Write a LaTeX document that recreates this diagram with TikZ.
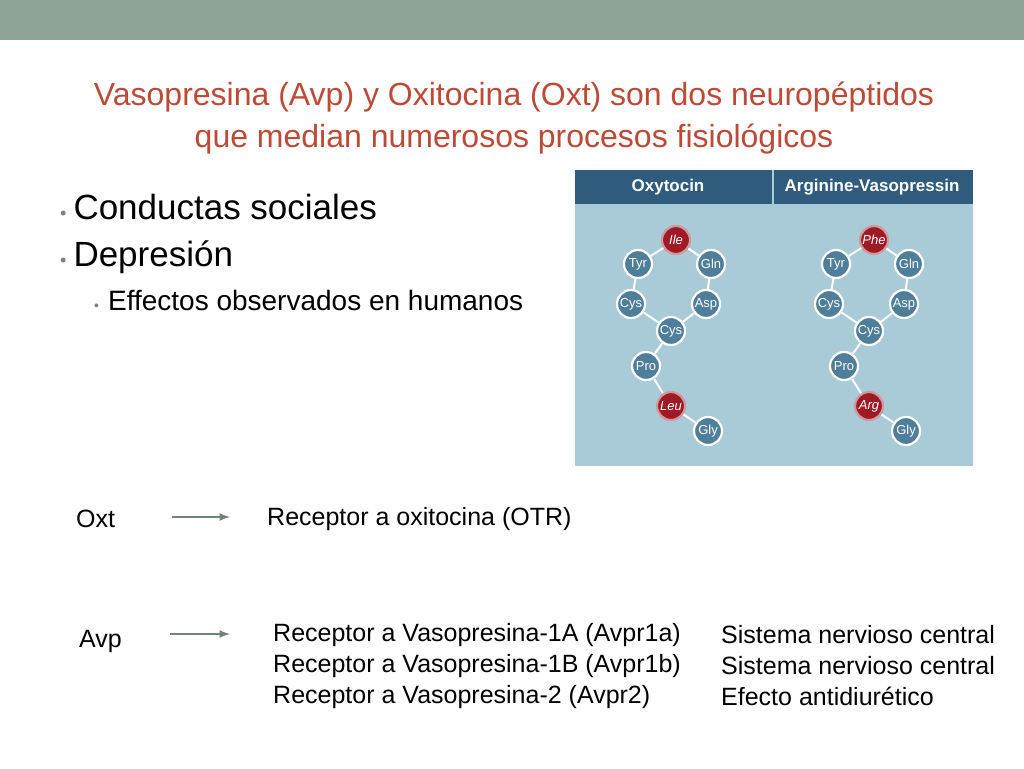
\documentclass[tikz,border=0pt]{standalone}
\usepackage{fontspec}
\setmainfont{Liberation Sans}
\definecolor{bar}{HTML}{8FA396}
\definecolor{ttl}{HTML}{BD4A36}
\definecolor{hdr}{HTML}{2F5B7C}
\definecolor{pnl}{HTML}{A9CBD8}
\definecolor{aa}{HTML}{4F7E9B}
\definecolor{red}{HTML}{9E1B26}
\definecolor{arr}{HTML}{6F8679}
\begin{document}
\begin{tikzpicture}[x=1pt,y=-1pt,
  aa/.style={circle,draw=white,line width=2.2pt,fill=aa,minimum size=28pt,inner sep=0pt,text=white,font=\fontsize{13}{14}\selectfont},
  ra/.style={aa,fill=red,draw=red!45!white,font=\fontsize{13}{14}\selectfont\itshape},
  bond/.style={white,line width=2pt},
  txt/.style={anchor=west,font=\fontsize{25}{30}\selectfont,inner sep=0pt},
  ar/.style={-latex,arr,line width=2.5pt}]
\useasboundingbox (0,0) rectangle (1024,768);
\fill[white] (0,0) rectangle (1024,768);
\fill[bar] (0,0) rectangle (1024,40);
\node[text=ttl,font=\fontsize{32}{42}\selectfont,align=center] (title) at (514,118) {Vasopresina (Avp) y Oxitocina (Oxt) son dos neuropéptidos\\que median numerosos procesos fisiológicos};
\node[anchor=west,font=\fontsize{35}{40}\selectfont,inner sep=0pt] (b1) at (60,207) {\textcolor{gray}{\fontsize{18}{18}\selectfont•}\hspace{7pt}Conductas sociales};
\node[anchor=west,font=\fontsize{35}{40}\selectfont,inner sep=0pt] (b2) at (60,257) {\textcolor{gray}{\fontsize{18}{18}\selectfont•}\hspace{7pt}Depresión};
\node[anchor=west,font=\fontsize{28}{32}\selectfont,inner sep=0pt] (b3) at (94,300) {\textcolor{gray}{\fontsize{14}{14}\selectfont•}\hspace{9pt}Effectos observados en humanos};
% panel
\fill[pnl] (575,170) rectangle (973,466);
\fill[hdr] (575,170) rectangle (973,204);
\draw[pnl,line width=1.5pt] (773,170) -- (773,204);
\node[white,font=\fontsize{17}{18}\selectfont\bfseries] (h1) at (668,187) {Oxytocin};
\node[white,font=\fontsize{17}{18}\selectfont\bfseries] (h2) at (872,187) {Arginine-Vasopressin};
\foreach \dx/\p/\top/\bot in {0/o/Ile/Leu,198/v/Phe/Arg}{
 \begin{scope}[xshift=\dx]
 \node[ra] (\p1) at (676,240) {\top};
 \node[aa] (\p2) at (638,264) {Tyr};
 \node[aa] (\p3) at (711,264) {Gln};
 \node[aa] (\p4) at (631,304) {Cys};
 \node[aa] (\p5) at (706,304) {Asp};
 \node[aa] (\p6) at (671,331) {Cys};
 \node[aa] (\p7) at (646,366) {Pro};
 \node[ra] (\p8) at (671,406) {\bot};
 \node[aa] (\p9) at (708,431) {Gly};
 \end{scope}
}
\foreach \p in {o,v}{
 \draw[bond] (\p2) -- (\p1); \draw[bond] (\p1) -- (\p3);
 \draw[bond] (\p2) -- (\p4); \draw[bond] (\p3) -- (\p5);
 \draw[bond] (\p4) -- (\p6); \draw[bond] (\p5) -- (\p6);
 \draw[bond] (\p6) -- (\p7); \draw[bond] (\p7) -- (\p8);
 \draw[bond] (\p8) -- (\p9);
}
% bottom
\node[txt] (oxt) at (76,519) {Oxt};
\coordinate (oa) at (172,517); \coordinate (ob) at (230,517);
\draw[ar] (oa) -- (ob);
\node[txt] (otr) at (267,519) {Receptor a oxitocina (OTR)};
\node[txt] (avp) at (79,641) {Avp};
\coordinate (aa1) at (170,634); \coordinate (ab) at (230,634);
\draw[ar] (aa1) -- (ab);
\node[txt,align=left,font=\fontsize{25}{31}\selectfont] (rec) at (273,666) {Receptor a Vasopresina-1A (Avpr1a)\\Receptor a Vasopresina-1B (Avpr1b)\\Receptor a Vasopresina-2 (Avpr2)};
\node[txt,align=left,font=\fontsize{25}{31}\selectfont] (eff) at (721,666) {Sistema nervioso central\\Sistema nervioso central\\Efecto antidiurético};
\end{tikzpicture}
\end{document}
